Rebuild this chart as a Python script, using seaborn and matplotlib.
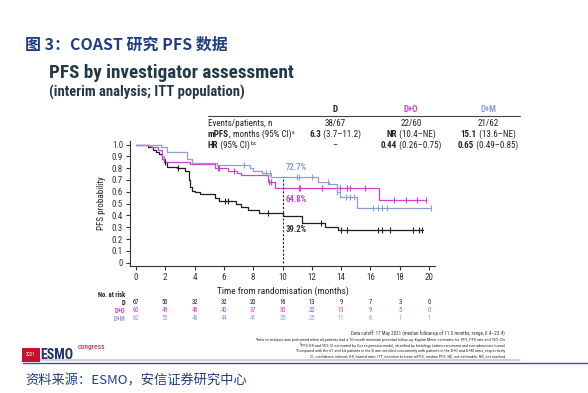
import numpy as np
import pandas as pd
import matplotlib
matplotlib.use('Agg')
import matplotlib.pyplot as plt
import matplotlib.transforms as mtransforms
from matplotlib.lines import Line2D
import seaborn as sns

# KM step curves (time in months, survival prob)
d_time = [0, 0.8, 1.2, 1.4, 1.6, 1.75, 1.9, 2.1, 2.8, 3.35, 3.6, 3.7, 3.85, 4.0, 4.4, 5.4, 5.7, 6.8, 7.2, 7.65, 8.4, 10.05, 11.3, 12.9, 13.8, 19.6]
d_surv = [1.0, 0.98, 0.95, 0.936, 0.92, 0.88, 0.85, 0.81, 0.80, 0.78, 0.70, 0.64, 0.61, 0.60, 0.58, 0.55, 0.52, 0.50, 0.475, 0.45, 0.42, 0.395, 0.34, 0.305, 0.28, 0.28]
do_time = [0, 1.0, 1.5, 1.8, 2.0, 3.7, 5.4, 6.3, 6.9, 7.2, 9.0, 9.5, 16.6, 19.8]
do_surv = [1.0, 0.98, 0.95, 0.88, 0.85, 0.835, 0.80, 0.78, 0.76, 0.745, 0.68, 0.635, 0.53, 0.53]
dm_time = [0, 1.7, 2.1, 3.5, 3.8, 5.5, 7.8, 8.0, 8.6, 9.2, 12.4, 13.2, 13.7, 13.9, 15.1, 20.1]
dm_surv = [1.0, 0.98, 0.935, 0.88, 0.845, 0.83, 0.80, 0.775, 0.755, 0.727, 0.685, 0.665, 0.60, 0.56, 0.467, 0.467]

# censoring marks
d_cens = [2.0, 2.9, 6.1, 6.3, 9.0, 12.6, 14.0, 14.4, 16.5, 16.8, 17.3, 18.9, 19.3, 19.5]
do_cens = [1.9, 5.6, 5.7, 6.7, 9.1, 9.2, 11.1, 11.2, 12.7, 13.9, 14.4, 14.6, 15.6, 17.6, 18.4, 19.2, 19.8]
dm_cens = [7.4, 8.9, 9.15, 11.0, 11.1, 12.0, 13.1, 13.75, 14.3, 14.6, 14.9, 16.2, 16.5, 16.8, 17.1, 20.1]

arms = ['D', 'D+O', 'D+M']
colors = {'D': '#1e1e1e', 'D+O': '#d43fd6', 'D+M': '#8d9fdb'}

risk_months = [0, 2, 4, 6, 8, 10, 12, 14, 16, 18, 20]
risk_d = [67, 50, 32, 32, 20, 16, 13, 9, 7, 3, 0]
risk_do = [60, 49, 46, 40, 37, 30, 22, 13, 9, 5, 0]
risk_dm = [62, 55, 48, 44, 41, 35, 25, 11, 6, 1, 1]

events = ['38/67', '22/60', '21/62']
mpfs_bold = ['6.3', 'NR', '15.1']
mpfs_ci = [' (3.7\u201311.2)', ' (10.4\u2013NE)', ' (13.6\u2013NE)']
hr_bold = ['', '0.44', '0.65']
hr_ci = ['\u2013', ' (0.26\u20130.75)', ' (0.49\u20130.85)']
rate_labels = ['39.2%', '64.8%', '72.7%']

sns.set_style('white')
plt.rcParams['font.family'] = ['Roboto Condensed', 'Liberation Sans', 'Noto Sans CJK SC', 'DejaVu Sans']

W, H = 588, 393
fig = plt.figure(figsize=(W / 100, H / 100), dpi=100)
renderer = fig.canvas.get_renderer()

def put(x, y, s, **kw):
    # place text in figure pixel coordinates (origin top-left)
    return fig.text(x / W, 1 - y / H, s, **kw)

def mixed(x, y, bold, regular, size, center=True, color='#222222'):
    # bold part followed by regular part on one baseline
    yb = y + size * 0.45
    parts = []
    if bold:
        parts.append(put(x, yb, bold, fontsize=size, fontweight='bold', color=color, va='baseline'))
    xr = x
    if parts:
        xr = parts[0].get_window_extent(renderer).x1
    parts.append(fig.text(xr / W, 1 - yb / H, regular, fontsize=size, color=color, va='baseline'))
    if center:
        x1 = parts[-1].get_window_extent(renderer).x1
        shift = (x1 - x) / 2
        for p in parts:
            px, py = p.get_position()
            p.set_position((px - shift / W, py))
    return parts[-1]

def sup_after(t, s, size, dy=2.0, **kw):
    # small raised letters right after a left-aligned text
    bb = t.get_window_extent(renderer)
    return fig.text(bb.x1 / W + 0.5 / W, (bb.y0 + bb.y1) / 2 / H + dy / H, s, fontsize=size, va='center', **kw)

def sup_before(t, s, size, dy=1.2, **kw):
    # small raised letters right before a right-aligned text
    bb = t.get_window_extent(renderer)
    return fig.text(bb.x0 / W, (bb.y0 + bb.y1) / 2 / H + dy / H, s, fontsize=size, va='center', ha='right', **kw)

# report header
put(25, 45, '图 3：COAST 研究 PFS 数据', fontsize=11.5, fontweight='bold', color='#1f3d86',
    family=['Noto Sans CJK SC', 'DejaVu Sans'], va='center')

# slide titles
put(49, 73, 'PFS by investigator assessment', fontsize=13.8, fontweight='bold', color='#213848', va='center')
put(49, 92, '(interim analysis; ITT population)', fontsize=10.5, fontweight='bold', color='#213848', va='center')

# main axes
ax = fig.add_axes([130 / W, 1 - 266 / H, 305 / W, 125 / H])

frames = []
for arm, t, s in zip(arms, [d_time, do_time, dm_time], [d_surv, do_surv, dm_surv]):
    frames.append(pd.DataFrame({'time': t, 'surv': s, 'arm': arm}))
km = pd.concat(frames, ignore_index=True)

sns.lineplot(data=km, x='time', y='surv', hue='arm', palette=colors, estimator=None,
             drawstyle='steps-post', linewidth=0.9, legend=False, ax=ax, sort=False)

cframes = []
for arm, c, t, s in zip(arms, [d_cens, do_cens, dm_cens], [d_time, do_time, dm_time], [d_surv, do_surv, dm_surv]):
    idx = np.searchsorted(t, c, side='right') - 1
    cframes.append(pd.DataFrame({'time': c, 'surv': np.array(s)[idx], 'arm': arm}))
cens = pd.concat(cframes, ignore_index=True)
for arm in arms:
    sub = cens[cens.arm == arm]
    ax.plot(sub.time, sub.surv, linestyle='none', marker='|', markersize=4, mew=0.8, color=colors[arm])

# 10-month landmark
dm_at10 = dm_surv[np.searchsorted(dm_time, 10, side='right') - 1]
ax.vlines(10, 0, dm_at10, colors='#222222', linestyles=(0, (2, 1.5)), linewidth=0.8)
ax.text(10.2, 0.284, rate_labels[0], color='#333333', fontsize=6.3, fontweight='bold', va='center')
ax.text(10.2, 0.537, rate_labels[1], color=colors['D+O'], fontsize=6.3, fontweight='bold', va='center')
ax.text(10.2, 0.806, rate_labels[2], color=colors['D+M'], fontsize=6.3, fontweight='bold', va='center')

ax.set_xlim(-0.4, 20.4)
ax.set_ylim(-0.028, 1.03)
ax.set_xticks(risk_months)
ax.set_yticks(np.arange(0, 1.01, 0.1))
ax.set_yticklabels(['0'] + [f'{v:.1f}' for v in np.arange(0.1, 1.01, 0.1)])
ax.tick_params(axis='both', labelsize=6.5, length=3, width=0.8, direction='out', pad=2,
               colors='#333333', bottom=True, left=True)
for side in ['top', 'right']:
    ax.spines[side].set_visible(False)
for side in ['left', 'bottom']:
    ax.spines[side].set_color('#333333')
    ax.spines[side].set_linewidth(0.8)
ax.set_xlabel('Time from randomisation (months)', fontsize=6.8, color='#222222', labelpad=3)
ax.set_ylabel('PFS probability', fontsize=6.5, color='#222222', labelpad=4)

# summary table above the plot
cols_x = [335, 411, 488]
fs = 6.5
for i, arm in enumerate(arms):
    put(cols_x[i], 110, arm, fontsize=fs, fontweight='bold', color=colors[arm], ha='center', va='center')
fig.add_artist(Line2D([208 / W, 520 / W], [1 - 116 / H, 1 - 116 / H], color='#444444', lw=0.8))
put(208, 123, 'Events/patients, n', fontsize=fs, color='#222222', va='center')
t1 = mixed(208, 134, 'mPFS', ', months (95% CI)', fs, center=False)
sup_after(t1, 'a', 4, color='#222222')
t2 = mixed(208, 145, 'HR', ' (95% CI)', fs, center=False)
sup_after(t2, 'b,c', 4, color='#222222')
for i in range(3):
    put(cols_x[i], 123, events[i], fontsize=fs, color='#222222', ha='center', va='center')
    mixed(cols_x[i], 134, mpfs_bold[i], mpfs_ci[i], fs)
    mixed(cols_x[i], 145, hr_bold[i], hr_ci[i], fs)

# number at risk
trans = mtransforms.blended_transform_factory(ax.transData, fig.transFigure)
put(98, 295, 'No. at risk', fontsize=4.7, fontweight='bold', color='#222222', va='center')
for arm, row, y in zip(arms, [risk_d, risk_do, risk_dm], [303, 311, 319]):
    put(125, y, arm, fontsize=4.7, fontweight='bold', color=colors[arm], ha='right', va='center')
    for m, n in zip(risk_months, row):
        ax.text(m, 1 - y / H, str(n), transform=trans, fontsize=4.7, color=colors[arm], ha='center', va='center')

# footnotes
notes = [
    'Data cutoff: 17 May 2021 (median follow-up of 11.5 months; range, 0.4\u201323.4)',
    'Interim analysis was performed when all patients had a 10-month minimum potential follow-up; Kaplan-Meier estimates for PFS, PFS rate and 95% CIs',
    'PFS HR and 95% CI estimated by Cox regression model, stratified by histology (adenocarcinoma and non-adenocarcinoma)',
    'Compared with the 67 and 64 patients in the D arm enrolled concurrently with patients in the D+O and D+M arms, respectively',
    'CI, confidence interval; HR, hazard ratio; ITT, intention to treat; mPFS, median PFS; NE, not estimable; NR, not reached',
]
note_marks = ['', 'a', 'b', 'c', '']
for k, (note, mark, y) in enumerate(zip(notes, note_marks, [334, 340, 345.5, 351, 356])):
    t = put(505, y, note, fontsize=3.6 if k == 0 else 3.1, color='#333333', ha='right', va='center')
    if mark:
        sup_before(t, mark, 2.2, color='#333333')

# ESMO logo
put(26, 355, '2021', fontsize=3.5, color='white', va='center',
    bbox=dict(boxstyle='square,pad=0.9', fc='#c8102e', ec='none'))
put(40, 355, 'ESMO', fontsize=10, fontweight='bold', color='#1d2f6f', va='center')
put(78, 347, 'congress', fontsize=5.5, color='#c8102e', va='center')

# page rules and source
fig.add_artist(Line2D([23 / W, 520 / W], [1 - 360 / H, 1 - 360 / H], color='#c8c8c8', lw=1.2))
fig.add_artist(Line2D([23 / W, 1.0], [1 - 362.5 / H, 1 - 362.5 / H], color='#2f58a8', lw=1.0))
put(25, 381, '资料来源：ESMO，安信证券研究中心', fontsize=9.5, color='#1f3d86', style='italic',
    family=['Noto Sans CJK SC', 'DejaVu Sans'], va='center')

fig.savefig('out.png', dpi=100)
